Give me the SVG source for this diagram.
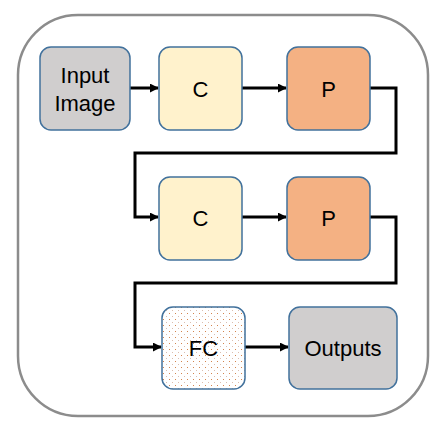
<svg xmlns="http://www.w3.org/2000/svg" width="447" height="432" viewBox="0 0 447 432">
<defs>
<style>
.frame{fill:#fff;stroke:#8c8c8c;stroke-width:2.5}
.node{stroke:#41719C;stroke-width:1.5}
.gray{fill:#D0CECE}
.conv{fill:#FFF2CC}
.pool{fill:#F4B183}
.fc{fill:url(#dots)}
.lbl{font-family:"Liberation Sans",Arial,sans-serif;font-size:22px;fill:#000;text-anchor:middle}
.edge{fill:none;stroke:#000;stroke-width:3;marker-end:url(#arrow)}
</style>
<marker id="arrow" viewBox="0 0 10 10" refX="9" refY="5" markerWidth="3" markerHeight="3" orient="auto" markerUnits="strokeWidth">
<path d="M0,0 L10,5 L0,10 z" fill="#000"/>
</marker>
<pattern id="dots" width="6" height="6" patternUnits="userSpaceOnUse">
<rect width="6" height="6" fill="#fff"/>
<rect x="1" y="1" width="1" height="1" fill="#C55A11" opacity="0.75"/>
<rect x="4" y="4" width="1" height="1" fill="#B07050" opacity="0.45"/>
</pattern>
</defs>
<rect class="frame" x="18" y="15" width="410" height="401" rx="60" ry="60"/>
<g id="connectors">
<path class="edge" d="M130,88 H158"/>
<path class="edge" d="M242,88 H286"/>
<path class="edge" d="M370,88 H396 V153 H135 V217 H158"/>
<path class="edge" d="M242,217 H286"/>
<path class="edge" d="M370,217 H396 V283 H135 V347 H161"/>
<path class="edge" d="M245,347 H288"/>
</g>
<g id="input">
<rect class="node gray" x="40" y="47" width="90" height="83" rx="11"/>
<text class="lbl" x="85" y="83">Input</text>
<text class="lbl" x="85" y="111">Image</text>
</g>
<g id="conv1">
<rect class="node conv" x="159" y="47" width="83" height="83" rx="11"/>
<text class="lbl" x="200.5" y="97">C</text>
</g>
<g id="pool1">
<rect class="node pool" x="287" y="47" width="83" height="83" rx="11"/>
<text class="lbl" x="328.5" y="97">P</text>
</g>
<g id="conv2">
<rect class="node conv" x="159" y="177" width="83" height="83" rx="11"/>
<text class="lbl" x="200.5" y="226">C</text>
</g>
<g id="pool2">
<rect class="node pool" x="287" y="177" width="83" height="83" rx="11"/>
<text class="lbl" x="328.5" y="226">P</text>
</g>
<g id="fc">
<rect class="node fc" x="162" y="307" width="83" height="82" rx="11"/>
<text class="lbl" x="203.5" y="356">FC</text>
</g>
<g id="outputs">
<rect class="node gray" x="289" y="307" width="108" height="82" rx="11"/>
<text class="lbl" x="343" y="356">Outputs</text>
</g>
</svg>
